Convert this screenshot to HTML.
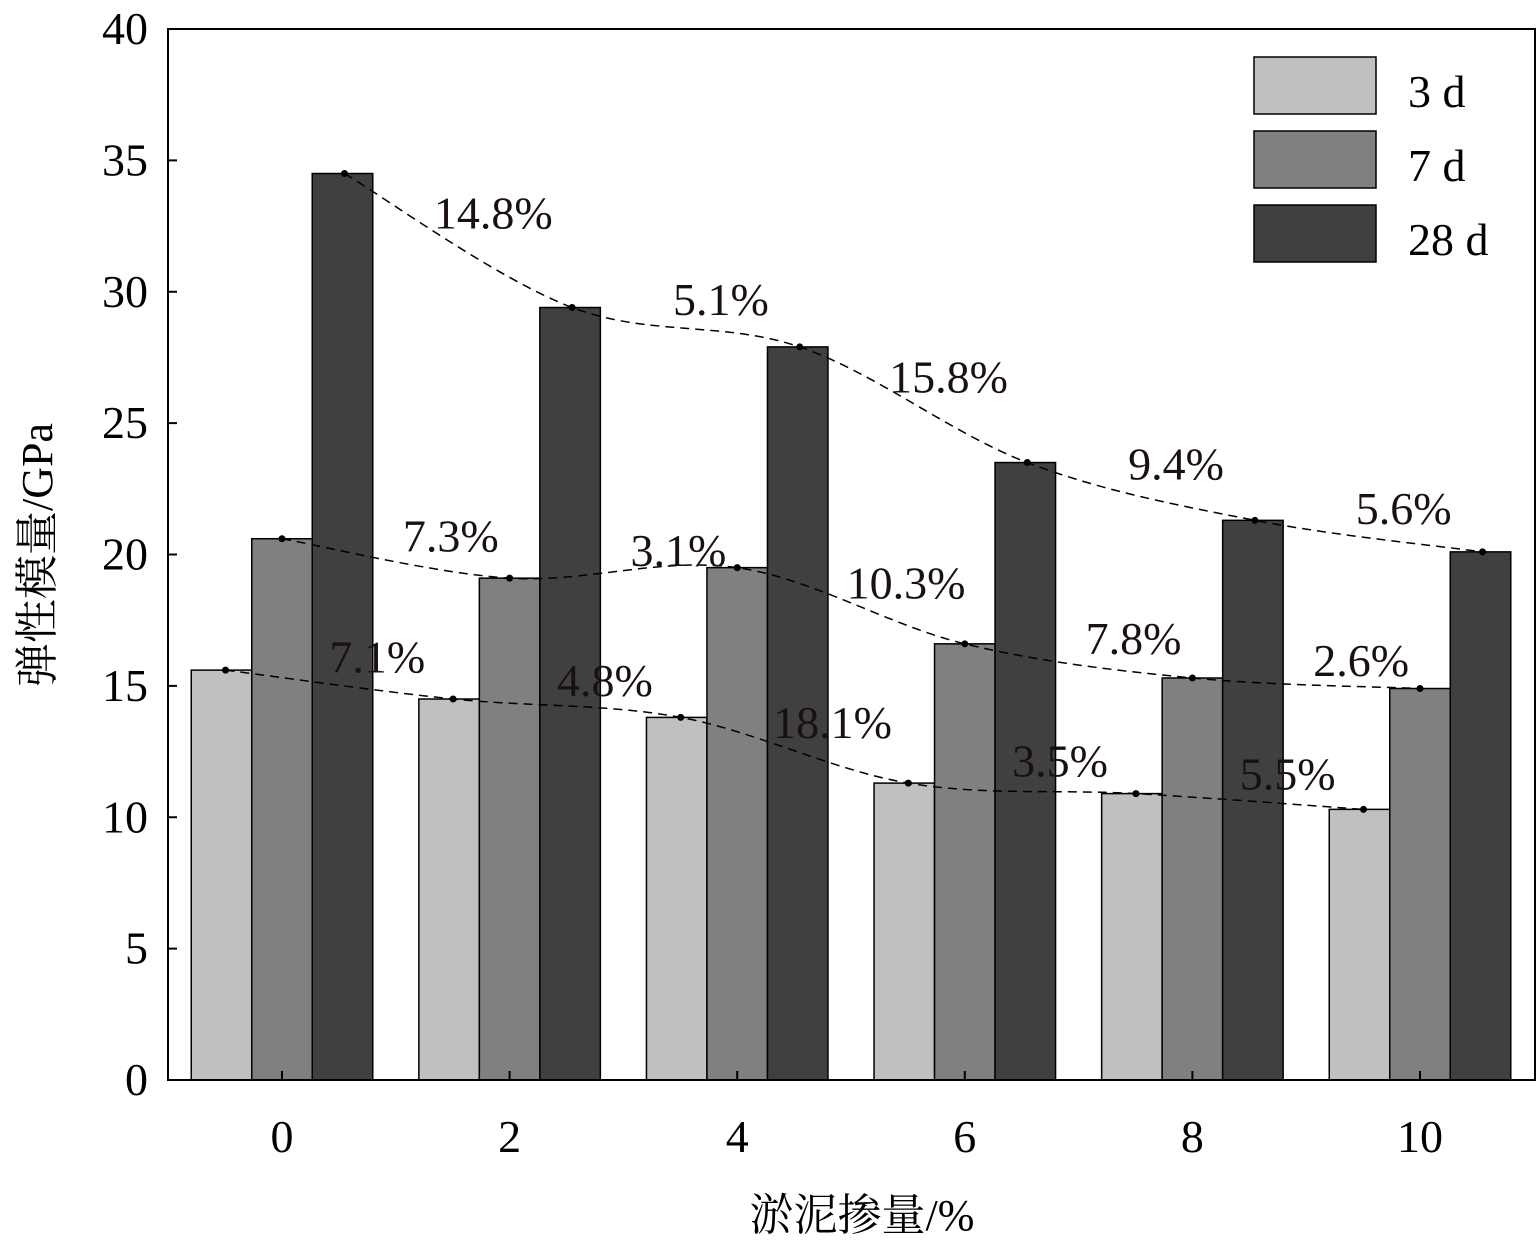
<!DOCTYPE html>
<html><head><meta charset="utf-8"><style>
html,body{margin:0;padding:0;background:#fff;}
svg{display:block;font-family:"Liberation Serif","Noto Serif CJK SC",serif;}
</style></head><body>
<svg id="chart" width="1538" height="1251" viewBox="0 0 1538 1251" xmlns="http://www.w3.org/2000/svg">
<g id="bars"></g>
<g id="curves"></g>
<g id="axes"></g>
<g id="legend">
  <rect x="1254" y="57" width="122" height="57" fill="#c0c0c0" stroke="#000" stroke-width="1.5"/>
  <text x="1408" y="107" font-size="46">3 d</text>
  <rect x="1254" y="131" width="122" height="57" fill="#808080" stroke="#000" stroke-width="1.5"/>
  <text x="1408" y="181" font-size="46">7 d</text>
  <rect x="1254" y="205" width="122" height="57" fill="#404040" stroke="#000" stroke-width="1.5"/>
  <text x="1408" y="255" font-size="46">28 d</text>
</g>
<text x="862" y="1230" font-size="44" text-anchor="middle">淤泥掺量/%</text>
<text transform="translate(52,555) rotate(-90)" font-size="44" text-anchor="middle">弹性模量/GPa</text>
</svg>
<script>
const categories = ["0","2","4","6","8","10"];
const seriesNames = ["3 d","7 d","28 d"];
const values3d = [15.6,14.5,13.8,11.3,10.9,10.3];
const values7d = [20.6,19.1,19.5,16.6,15.3,14.9];
const values28d = [34.5,29.4,27.9,23.5,21.3,20.1];
const labels3d = ["7.1%","4.8%","18.1%","3.5%","5.5%"];
const labels7d = ["7.3%","3.1%","10.3%","7.8%","2.6%"];
const labels28d = ["14.8%","5.1%","15.8%","9.4%","5.6%"];
const yTicks = [0,5,10,15,20,25,30,35,40];

const NS="http://www.w3.org/2000/svg";
const L=168,R=1535,T=29,B=1080,YMAX=40;
const y=v=>B-(v/YMAX)*(B-T);
const step=(R-L-28)/categories.length*1.0;
const gx=i=>282+i*227.6;
const bw=60.5;
const colors=["#c0c0c0","#808080","#404040"];
const series=[values3d,values7d,values28d];
const labelSets=[labels3d,labels7d,labels28d];
const offs=[[38,-12],[55,-7],[35,-12]];
function mk(tag,attrs,parent){const e=document.createElementNS(NS,tag);for(const k in attrs)e.setAttribute(k,attrs[k]);parent.appendChild(e);return e;}
const gb=document.getElementById('bars'),gc=document.getElementById('curves'),ga=document.getElementById('axes');
series.forEach((vals,s)=>{
  vals.forEach((v,i)=>{
    const x=gx(i)-1.5*bw+s*bw;
    const r=mk('rect',{x:x,y:y(v),width:bw,height:B-y(v),fill:colors[s],stroke:'#000','stroke-width':1.5},gb);
    
    
  });
});
series.forEach((vals,s)=>{
  const pts=vals.map((v,i)=>[gx(i)-bw+s*bw+(s===0?4:(s===2?2:0)),y(v)]);
  let d='M'+pts[0][0]+','+pts[0][1];
  for(let i=0;i<pts.length-1;i++){
    const p0=pts[i-1]||pts[i],p1=pts[i],p2=pts[i+1],p3=pts[i+2]||p2;
    const c1=[p1[0]+(p2[0]-p0[0])/6,p1[1]+(p2[1]-p0[1])/6];
    const c2=[p2[0]-(p3[0]-p1[0])/6,p2[1]-(p3[1]-p1[1])/6];
    d+=' C'+c1+' '+c2+' '+p2;
  }
  const path=mk('path',{d:d,fill:'none',stroke:'#000','stroke-width':1.5,'stroke-dasharray':'9,6'},gc);
  
  
  pts.forEach((p,i)=>{
    const c=mk('circle',{cx:p[0],cy:p[1],r:3.5,fill:'#000'},gc);
    
    
  });
  labelSets[s].forEach((t,i)=>{
    const mx=(pts[i][0]+pts[i+1][0])/2+offs[s][0], my=(pts[i][1]+pts[i+1][1])/2+offs[s][1];
    const tx=mk('text',{x:mx,y:my,'font-size':46,'text-anchor':'middle',fill:'#1a1010'},gc);
    tx.textContent=t;
    
    
  });
});
const frame=mk('rect',{x:L,y:T,width:R-L,height:B-T,fill:'none',stroke:'#000','stroke-width':2},ga);


yTicks.forEach(v=>{
  mk('line',{x1:L,x2:L+9,y1:y(v),y2:y(v),stroke:'#000','stroke-width':2},ga);
  const t=mk('text',{x:L-20,y:y(v)+15,'font-size':46,'text-anchor':'end'},ga);
  t.textContent=v;
  
  
});
categories.forEach((c,i)=>{
  mk('line',{x1:gx(i),x2:gx(i),y1:B,y2:B-9,stroke:'#000','stroke-width':2},ga);
  const t=mk('text',{x:gx(i),y:B+72,'font-size':46,'text-anchor':'middle'},ga);
  t.textContent=c;
  
  
});
</script>
</body></html>
